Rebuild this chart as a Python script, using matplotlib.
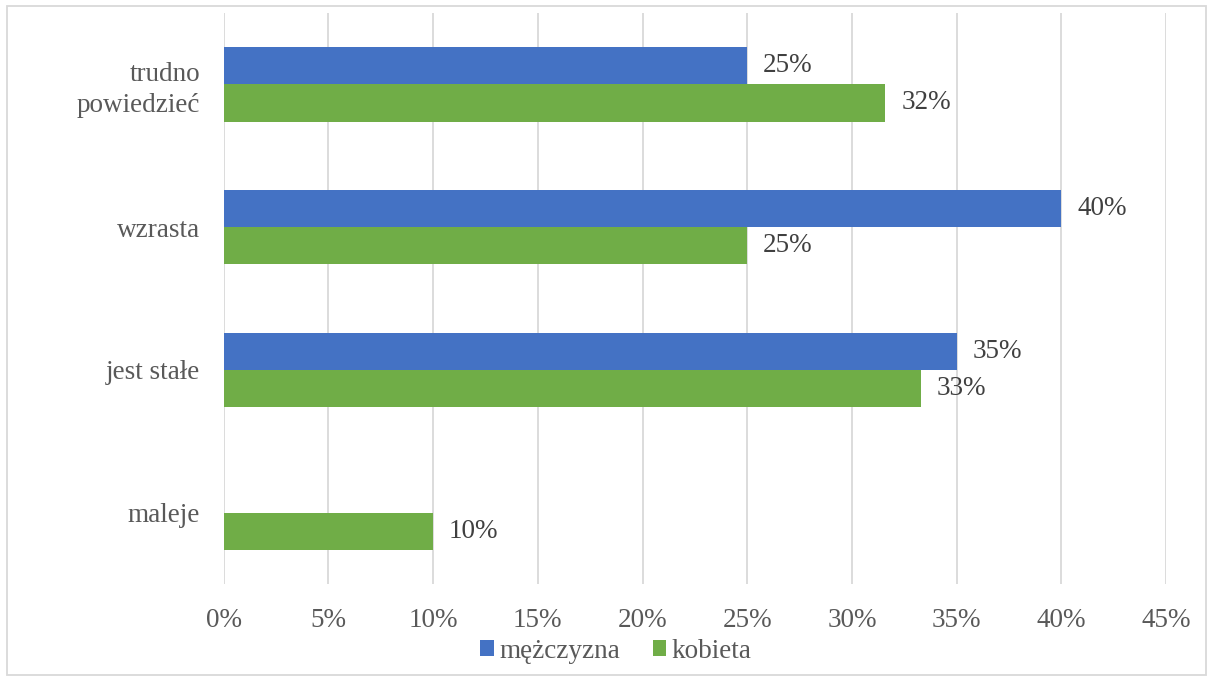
import matplotlib
matplotlib.use("Agg")
import matplotlib.pyplot as plt
from matplotlib.patches import Rectangle
import numpy as np

categories = ["maleje", "jest stałe", "wzrasta", "trudno\npowiedzieć"]
series_names = ["mężczyzna", "kobieta"]
men = [0.0, 35.0, 40.0, 25.0]
women = [10.0, 33.3, 25.0, 31.6]
xticks = [0, 5, 10, 15, 20, 25, 30, 35, 40, 45]
colors = ["#4472C4", "#70AD47"]

plt.rcParams['font.family'] = ['Liberation Serif', 'DejaVu Serif']
FS = 19.5

fig = plt.figure(figsize=(12.13, 6.81), dpi=100)
ax = fig.add_axes([0.1844, 0.1424, 0.9613 - 0.1844, 0.9809 - 0.1424])

y = np.arange(len(categories))
h = 0.26
bm = ax.barh(y + h / 2, men, height=h, color=colors[0], label=series_names[0], zorder=3)
bw = ax.barh(y - h / 2, women, height=h, color=colors[1], label=series_names[1], zorder=3)

for bars, vals in ((bm, men), (bw, women)):
    for b, v in zip(bars, vals):
        if v > 0:
            ax.annotate(f"{round(v):d}%", (v, b.get_y() + b.get_height() / 2),
                        xytext=(16, 0), textcoords="offset pixels",
                        ha="left", va="center", fontsize=FS, color="#404040")

ax.set_xlim(0, 45)
ax.set_ylim(-0.5, len(categories) - 0.5)
ax.set_xticks(xticks)
ax.set_xticklabels([f"{t}%" for t in xticks])
ax.set_yticks(y)
ax.set_yticklabels(categories, linespacing=1.3)
ax.tick_params(axis="x", length=0, pad=17, labelsize=FS, labelcolor="#595959")
ax.tick_params(axis="y", length=0, pad=17, labelsize=FS, labelcolor="#595959")
ax.grid(axis="x", color="#D9D9D9", linewidth=1.3, zorder=0)
ax.set_axisbelow(True)
for s in ax.spines.values():
    s.set_visible(False)

leg = fig.legend(handles=[bm, bw], labels=series_names, loc="center",
                 bbox_to_anchor=(616 / 1213, 1 - 651 / 681), ncol=2, frameon=False,
                 fontsize=FS, handlelength=0.5, handleheight=0.5, handletextpad=0.2,
                 columnspacing=1.2, labelcolor="#595959")

fig.patches.append(Rectangle((7 / 1213, 6 / 681), 1 - 14 / 1213, 1 - 12 / 681,
                             transform=fig.transFigure, fill=False,
                             edgecolor="#D9D9D9", linewidth=1.3))

fig.savefig("out.png", dpi=100)
